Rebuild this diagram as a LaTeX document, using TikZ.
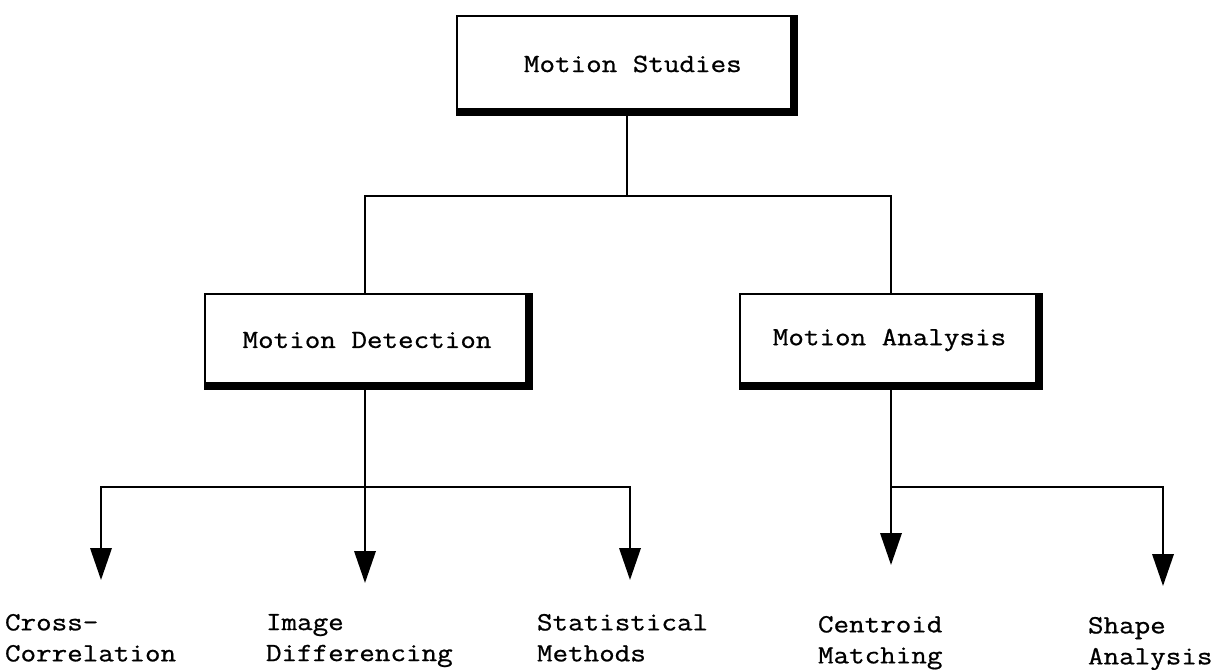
\documentclass[tikz,border=0pt]{standalone}
\usepackage{fontspec}
\setmonofont{Latin Modern Mono}[FakeStretch=1.15, FakeBold=0.8]
\usetikzlibrary{arrows.meta}
\newcommand{\chartfont}{\ttfamily\fontsize{19.7}{23.25}\selectfont}
\begin{document}
\begin{tikzpicture}[x=0.75pt, y=-0.75pt, line width=1.8pt,
  box/.style={draw, rectangle, inner sep=0pt, outer sep=0pt, font=\chartfont},
  leaf/.style={anchor=north west, inner sep=0pt, outer sep=0pt, align=left, font=\chartfont},
  arr/.style={-{Triangle[length=24pt,width=16pt]}}]

\useasboundingbox (0,0) rectangle (1217,669);

% boxes
\node[box, minimum width=252.75pt, minimum height=72pt] (ms) at (625.5,64) {\hspace*{11pt}Motion Studies};
\node[box, minimum width=243pt, minimum height=69pt] (md) at (367,340) {Motion Detection};
\node[box, minimum width=224.25pt, minimum height=69pt] (ma) at (889.5,340) {Motion Analysis};

% heavy right and bottom edges of each box
\foreach \n in {ms,md,ma}{
  \fill ([shift={(-4,-1)}]\n.north east) rectangle ([shift={(4,4)}]\n.south east);
  \fill ([shift={(-1,-4)}]\n.south west) rectangle ([shift={(4,4)}]\n.south east);
}

% leaves
\node[leaf] (cc) at (5,614) {Cross-\\Correlation};
\node[leaf] (id) at (266,614) {Image\\Differencing};
\node[leaf] (sm) at (537,614) {Statistical\\Methods};
\node[leaf] (cm) at (818,616) {Centroid\\Matching};
\node[leaf] (sa) at (1088,617) {Shape\\Analysis};

% junctions and arrow tips
\coordinate (j1) at (627,196);
\coordinate (j2) at (365,487);
\coordinate (tcc) at (101,580);
\coordinate (tid) at (365,583);
\coordinate (tsm) at (630,580);
\coordinate (tcm) at (891,565);
\coordinate (tsa) at (1163,586);

% upper connectors
\draw (ms.south -| j1) -- (j1);
\draw (md.north -| tid) |- (j1) -| (ma.north -| tcm);

% lower connectors
\draw[arr] (md.south -| tid) -- (tid);
\draw[arr] (j2) -| (tcc);
\draw[arr] (j2) -| (tsm);
\draw[arr] (ma.south -| tcm) -- (tcm);
\draw[arr] (tcm |- j2) -| (tsa);
\end{tikzpicture}
\end{document}
